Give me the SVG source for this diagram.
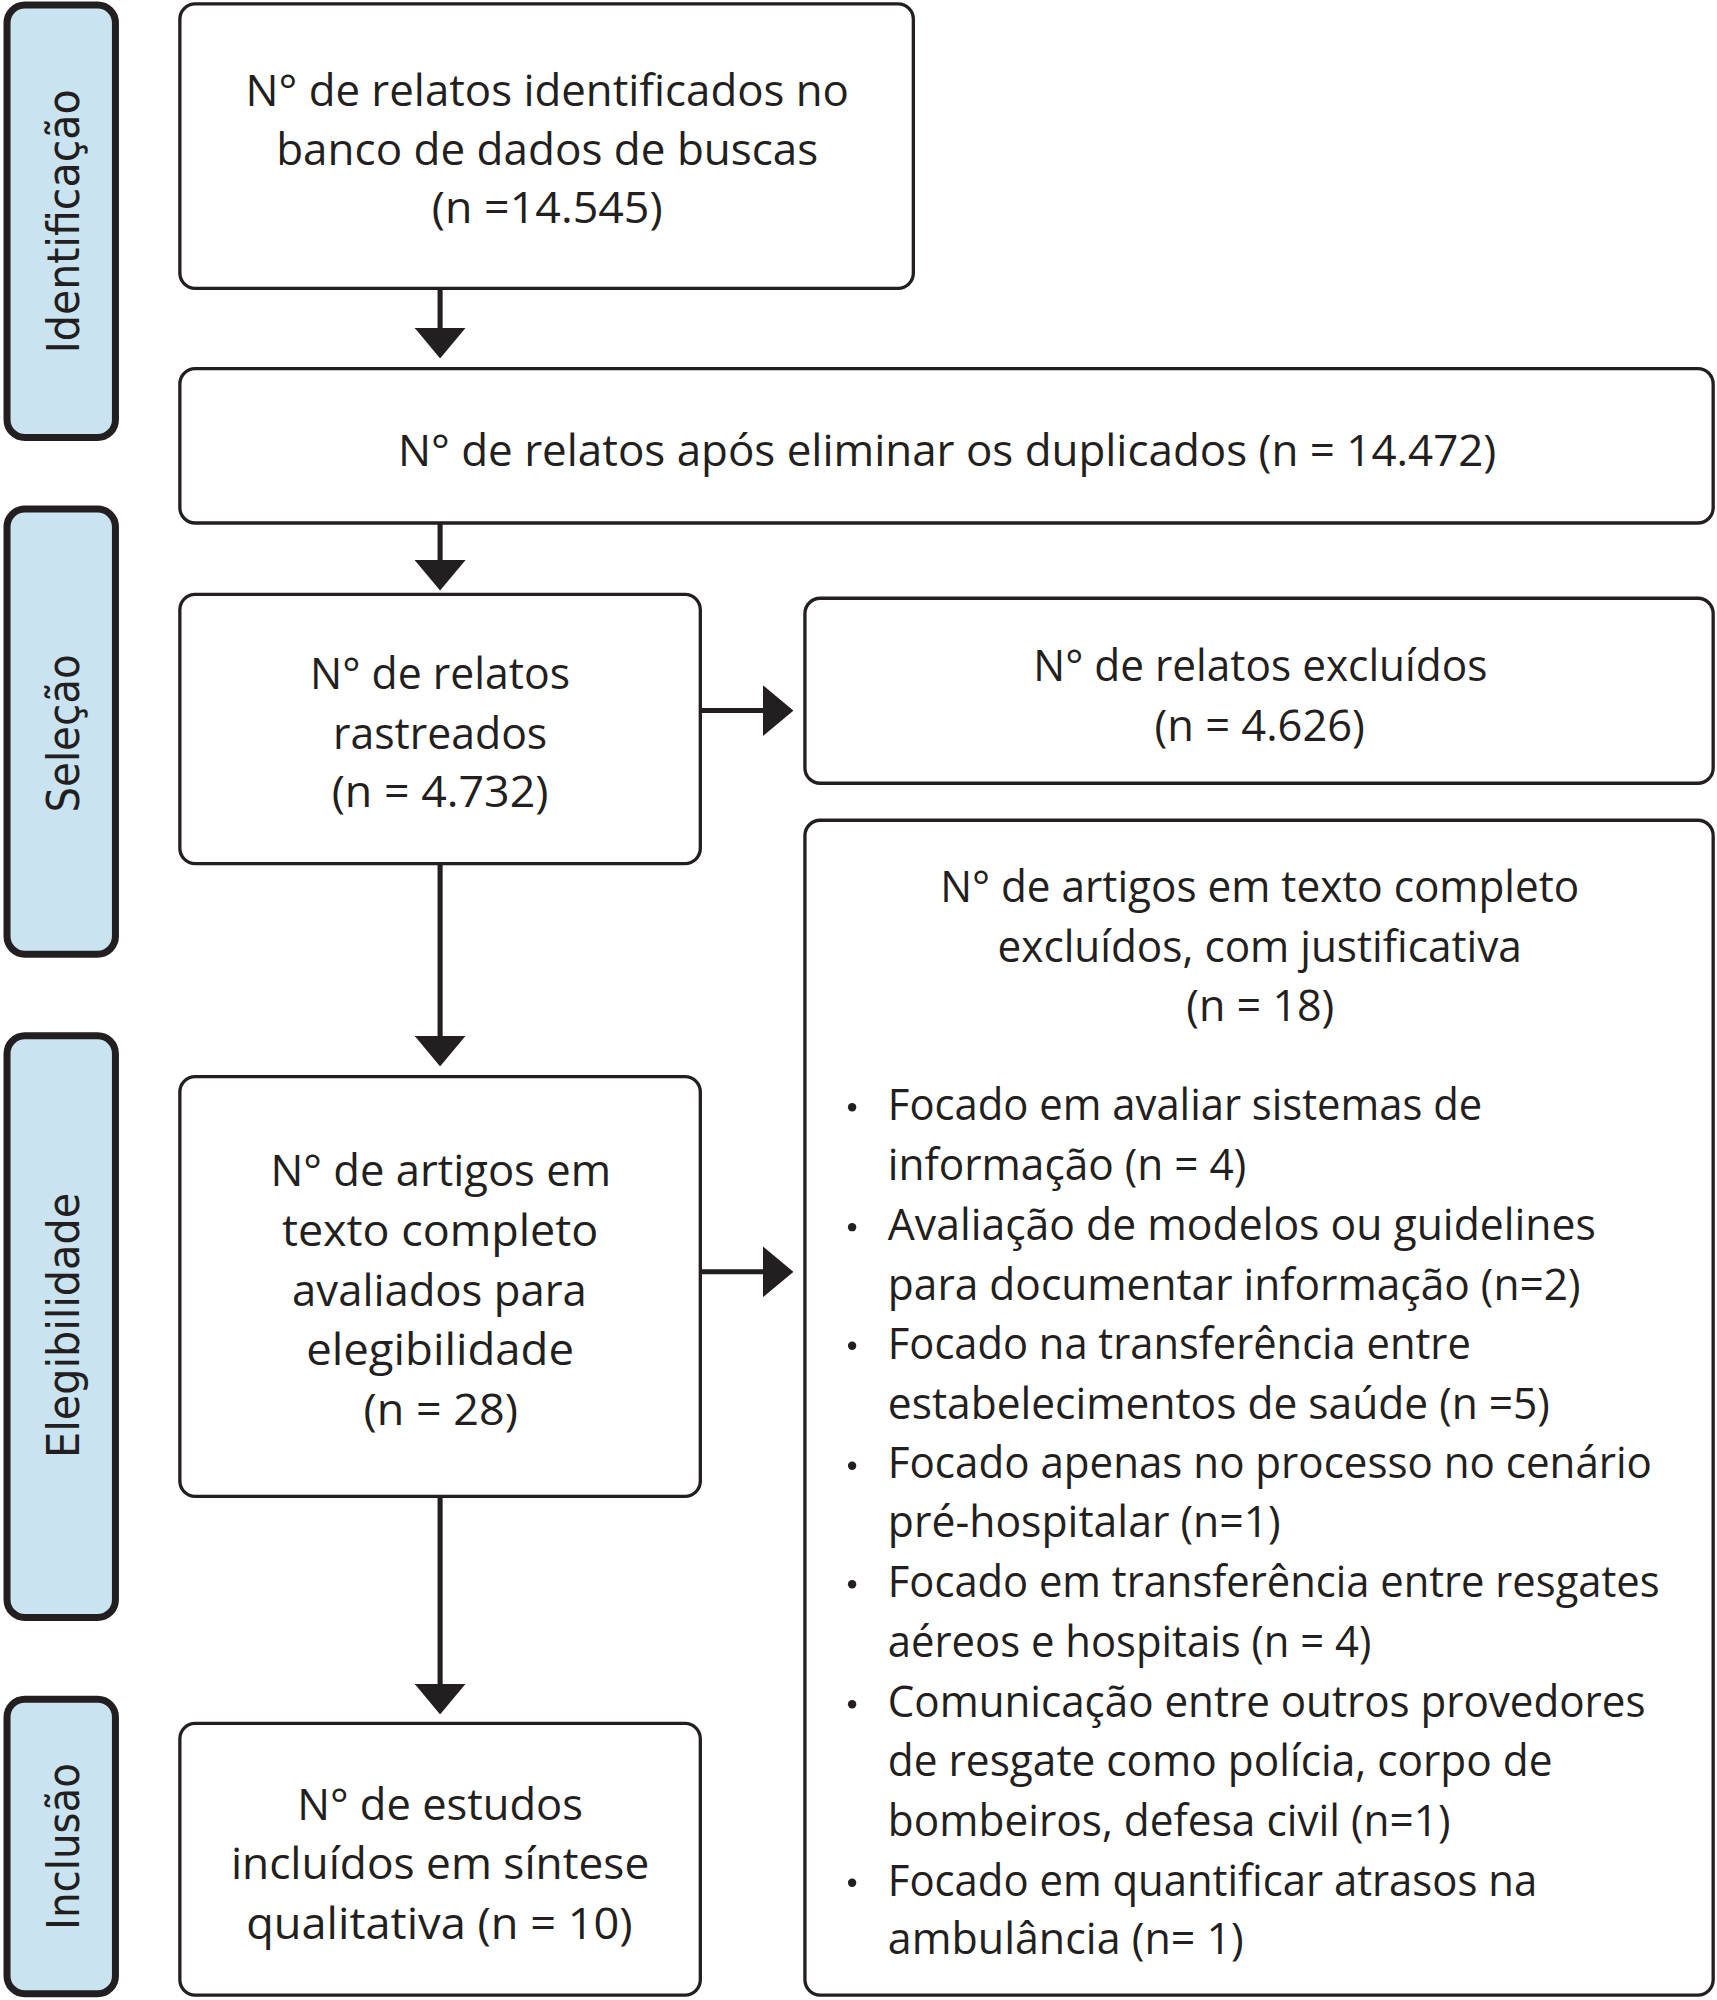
<svg xmlns="http://www.w3.org/2000/svg" width="1717" height="2000" viewBox="0 0 1717 2000">
<style>
.box{fill:#fff;stroke:#231f20;stroke-width:2.6}
.side{fill:#c9e3f1;stroke:#231f20;stroke-width:5.5}
.t{font-family:"Open Sans","Noto Sans",sans-serif;font-size:35px;fill:#231f20}
.c{text-anchor:middle}
.s{font-family:"DejaVu Sans","Noto Sans",sans-serif;font-size:35px;fill:#231f20;text-anchor:middle}
.ln{stroke:#231f20;stroke-width:4;fill:none}
.dot{fill:#231f20}
</style>
<defs>
<marker id="ah" markerUnits="userSpaceOnUse" markerWidth="24" markerHeight="40" viewBox="0 0 24 40" refX="1" refY="20" orient="auto">
<path d="M0,0 L24,20 L0,40 Z" fill="#231f20"/>
</marker>
</defs>
<rect width="1717" height="2000" fill="#fff"/>
<g transform="scale(1.27563)">
<g id="stage-identificacao">
<rect class="side" x="5.5" y="4" width="85" height="339" rx="14"/>
<text class="s" transform="translate(62,173.5) rotate(-90)" textLength="207" lengthAdjust="spacingAndGlyphs">Identificação</text>
</g>
<g id="stage-selecao">
<rect class="side" x="5.5" y="399" width="85" height="349" rx="14"/>
<text class="s" transform="translate(62,575) rotate(-90)" textLength="124" lengthAdjust="spacingAndGlyphs">Seleção</text>
</g>
<g id="stage-elegibilidade">
<rect class="side" x="5.5" y="812" width="85" height="456" rx="14"/>
<text class="s" transform="translate(62,1039) rotate(-90)" textLength="208" lengthAdjust="spacingAndGlyphs">Elegibilidade</text>
</g>
<g id="stage-inclusao">
<rect class="side" x="5.5" y="1332" width="85" height="231" rx="14"/>
<text class="s" transform="translate(62,1447.5) rotate(-90)" textLength="131" lengthAdjust="spacingAndGlyphs">Inclusão</text>
</g>

<g id="connectors">
<line class="ln" x1="345" y1="226" x2="345" y2="258" marker-end="url(#ah)"/>
<line class="ln" x1="345" y1="410" x2="345" y2="440" marker-end="url(#ah)"/>
<line class="ln" x1="345" y1="677" x2="345" y2="813" marker-end="url(#ah)"/>
<line class="ln" x1="345" y1="1173" x2="345" y2="1321" marker-end="url(#ah)"/>
<line class="ln" x1="549" y1="557" x2="599" y2="557" marker-end="url(#ah)"/>
<line class="ln" x1="549" y1="997" x2="599" y2="997" marker-end="url(#ah)"/>
</g>

<g id="n-identificados">
<rect class="box" x="141" y="3" width="575" height="223" rx="12"/>
<text class="t c" x="429" y="83" textLength="473" lengthAdjust="spacingAndGlyphs">N° de relatos identificados no</text>
<text class="t c" x="429" y="129" textLength="425" lengthAdjust="spacingAndGlyphs">banco de dados de buscas</text>
<text class="t c" x="429" y="175" textLength="181" lengthAdjust="spacingAndGlyphs">(n =14.545)</text>
</g>
<g id="n-sem-duplicados">
<rect class="box" x="141" y="289" width="1202" height="121" rx="12"/>
<text class="t c" x="742.5" y="365" textLength="861" lengthAdjust="spacingAndGlyphs">N° de relatos após eliminar os duplicados (n = 14.472)</text>
</g>
<g id="n-rastreados">
<rect class="box" x="141" y="466" width="408" height="211" rx="12"/>
<text class="t c" x="345" y="540" textLength="204" lengthAdjust="spacingAndGlyphs">N° de relatos</text>
<text class="t c" x="345" y="587" textLength="168" lengthAdjust="spacingAndGlyphs">rastreados</text>
<text class="t c" x="345" y="633" textLength="170" lengthAdjust="spacingAndGlyphs">(n = 4.732)</text>
</g>
<g id="n-excluidos">
<rect class="box" x="631" y="469" width="712" height="145" rx="12"/>
<text class="t c" x="988" y="534" textLength="356" lengthAdjust="spacingAndGlyphs">N° de relatos excluídos</text>
<text class="t c" x="987.5" y="581" textLength="165" lengthAdjust="spacingAndGlyphs">(n = 4.626)</text>
</g>
<g id="n-artigos-excluidos">
<rect class="box" x="631" y="643" width="712" height="921" rx="12"/>
<text class="t c" x="987.5" y="707" textLength="501" lengthAdjust="spacingAndGlyphs">N° de artigos em texto completo</text>
<text class="t c" x="987.5" y="754" textLength="411" lengthAdjust="spacingAndGlyphs">excluídos, com justificativa</text>
<text class="t c" x="988" y="800" textLength="116" lengthAdjust="spacingAndGlyphs">(n = 18)</text>
<circle class="dot" cx="668" cy="868" r="3.3"/>
<circle class="dot" cx="668" cy="962" r="3.3"/>
<circle class="dot" cx="668" cy="1055" r="3.3"/>
<circle class="dot" cx="668" cy="1149" r="3.3"/>
<circle class="dot" cx="668" cy="1242" r="3.3"/>
<circle class="dot" cx="668" cy="1336" r="3.3"/>
<circle class="dot" cx="668" cy="1476" r="3.3"/>
<text class="t" x="696" y="878" textLength="466" lengthAdjust="spacingAndGlyphs">Focado em avaliar sistemas de</text>
<text class="t" x="696" y="925" textLength="281" lengthAdjust="spacingAndGlyphs">informação (n = 4)</text>
<text class="t" x="696" y="972" textLength="555" lengthAdjust="spacingAndGlyphs">Avaliação de modelos ou guidelines</text>
<text class="t" x="696" y="1019" textLength="543" lengthAdjust="spacingAndGlyphs">para documentar informação (n=2)</text>
<text class="t" x="696" y="1065" textLength="457" lengthAdjust="spacingAndGlyphs">Focado na transferência entre</text>
<text class="t" x="696" y="1112" textLength="519" lengthAdjust="spacingAndGlyphs">estabelecimentos de saúde (n =5)</text>
<text class="t" x="696" y="1159" textLength="599" lengthAdjust="spacingAndGlyphs">Focado apenas no processo no cenário</text>
<text class="t" x="696" y="1205" textLength="308" lengthAdjust="spacingAndGlyphs">pré-hospitalar (n=1)</text>
<text class="t" x="696" y="1252" textLength="605" lengthAdjust="spacingAndGlyphs">Focado em transferência entre resgates</text>
<text class="t" x="696" y="1299" textLength="379" lengthAdjust="spacingAndGlyphs">aéreos e hospitais (n = 4)</text>
<text class="t" x="696" y="1346" textLength="594" lengthAdjust="spacingAndGlyphs">Comunicação entre outros provedores</text>
<text class="t" x="696" y="1392" textLength="521" lengthAdjust="spacingAndGlyphs">de resgate como polícia, corpo de</text>
<text class="t" x="696" y="1439" textLength="441" lengthAdjust="spacingAndGlyphs">bombeiros, defesa civil (n=1)</text>
<text class="t" x="696" y="1486" textLength="509" lengthAdjust="spacingAndGlyphs">Focado em quantificar atrasos na</text>
<text class="t" x="696" y="1532" textLength="279" lengthAdjust="spacingAndGlyphs">ambulância (n= 1)</text>
</g>
<g id="n-avaliados">
<rect class="box" x="141" y="844" width="408" height="329" rx="12"/>
<text class="t c" x="345.5" y="930" textLength="267" lengthAdjust="spacingAndGlyphs">N° de artigos em</text>
<text class="t c" x="345" y="977" textLength="248" lengthAdjust="spacingAndGlyphs">texto completo</text>
<text class="t c" x="344.5" y="1024" textLength="231" lengthAdjust="spacingAndGlyphs">avaliados para</text>
<text class="t c" x="345" y="1070" textLength="210" lengthAdjust="spacingAndGlyphs">elegibilidade</text>
<text class="t c" x="345.5" y="1117" textLength="121" lengthAdjust="spacingAndGlyphs">(n = 28)</text>
</g>
<g id="n-incluidos">
<rect class="box" x="141" y="1351" width="408" height="213" rx="12"/>
<text class="t c" x="345" y="1427" textLength="224" lengthAdjust="spacingAndGlyphs">N° de estudos</text>
<text class="t c" x="345" y="1473" textLength="328" lengthAdjust="spacingAndGlyphs">incluídos em síntese</text>
<text class="t c" x="344.5" y="1520" textLength="303" lengthAdjust="spacingAndGlyphs">qualitativa (n = 10)</text>
</g>
</g>
</svg>
